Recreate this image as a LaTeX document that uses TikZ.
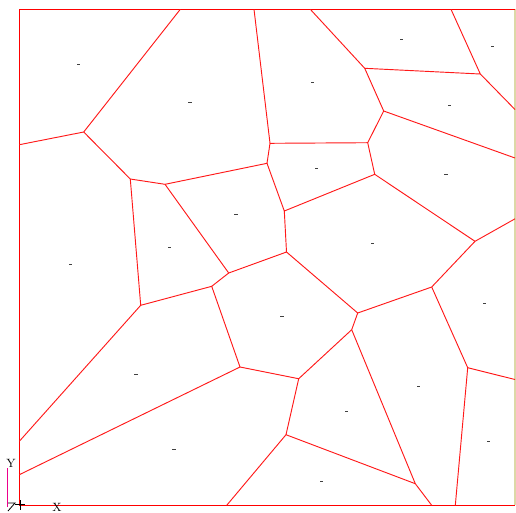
\documentclass[tikz,border=0pt]{standalone}
\begin{document}
\begin{tikzpicture}[x=0.75pt,y=-0.75pt,
  edge/.style={draw=red!90!white,line width=0.7pt},
  framelinestyle/.style={draw=red,line width=0.8pt},
  site/.style={fill=black!75,inner sep=0pt,minimum width=2.6pt,minimum height=0.7pt,draw=none},
  axlabel/.style={font=\fontsize{9}{9}\selectfont,inner sep=0pt,text=black}]
\useasboundingbox (0,0) rectangle (516,512);
% Voronoi vertices
\coordinate (A) at (83.7,132);
\coordinate (B) at (130.3,179);
\coordinate (C) at (165,184.3);
\coordinate (D) at (270,143.3);
\coordinate (E) at (267,163.3);
\coordinate (F) at (367.7,142.7);
\coordinate (G) at (383.7,111);
\coordinate (H) at (364.7,68.3);
\coordinate (I) at (480.3,74);
\coordinate (J) at (374.7,174.3);
\coordinate (K) at (284.3,211);
\coordinate (L) at (286.5,252);
\coordinate (M) at (475,241.3);
\coordinate (N) at (140.7,305.3);
\coordinate (O) at (211.7,286.3);
\coordinate (P) at (228.7,273);
\coordinate (Q) at (240,367);
\coordinate (S) at (357.7,313);
\coordinate (T) at (351.7,329.7);
\coordinate (U) at (431.7,287);
\coordinate (V) at (467.7,367.7);
\coordinate (W) at (298.7,378.7);
\coordinate (X) at (415.3,483.7);
\coordinate (Yv) at (286,434.7);
% boundary points
\coordinate (tA) at (180.3,9.3);
\coordinate (lA) at (19.3,144.7);
\coordinate (tD) at (254,9.3);
\coordinate (tH) at (310.3,9.3);
\coordinate (tI) at (451,9.3);
\coordinate (rI) at (515,109.5);
\coordinate (rG) at (515,158);
\coordinate (rM) at (515,218.8);
\coordinate (rV) at (515,379.5);
\coordinate (bV) at (455.3,505.3);
\coordinate (bX) at (431.7,505.3);
\coordinate (bY) at (226.7,505.3);
\coordinate (lN) at (19.3,441.3);
\coordinate (lQ) at (19.3,474.7);
% frame
\coordinate (fTL) at (19.3,9.3);
\coordinate (fTR) at (515,9.3);
\coordinate (fBL) at (19.3,505.3);
\coordinate (fBR) at (515,505.3);
\draw[draw=yellow!60!black!40,line width=0.8pt] (fTR) -- (fBR);
\draw[framelinestyle] (fTR) -- (fTL) -- (fBL) -- (fBR);
% edges
\draw[edge] (tA) -- (A) -- (lA);
\draw[edge] (A) -- (B) -- (C) -- (E) -- (D) -- (tD);
\draw[edge] (D) -- (F) -- (G) -- (H) -- (tH);
\draw[edge] (H) -- (I) -- (tI);
\draw[edge] (I) -- (rI);
\draw[edge] (G) -- (rG);
\draw[edge] (F) -- (J) -- (K) -- (E);
\draw[edge] (K) -- (L) -- (P) -- (C);
\draw[edge] (J) -- (M) -- (rM);
\draw[edge] (M) -- (U) -- (S) -- (L);
\draw[edge] (U) -- (V) -- (rV);
\draw[edge] (V) -- (bV);
\draw[edge] (S) -- (T) -- (W) -- (Q) -- (O) -- (P);
\draw[edge] (O) -- (N) -- (B);
\draw[edge] (N) -- (lN);
\draw[edge] (Q) -- (lQ);
\draw[edge] (T) -- (X) -- (bX);
\draw[edge] (W) -- (Yv) -- (X);
\draw[edge] (Yv) -- (bY);
% sites
\node[site] (s1) at (78.3,64) {};
\node[site] (s2) at (190,102) {};
\node[site] (s3) at (312.7,82) {};
\node[site] (s4) at (401.7,39.3) {};
\node[site] (s5) at (492.3,46) {};
\node[site] (s6) at (449.3,105) {};
\node[site] (s7) at (316.7,168.3) {};
\node[site] (s8) at (446,174.3) {};
\node[site] (s9) at (236,214.3) {};
\node[site] (s10) at (169.3,247.7) {};
\node[site] (s11) at (70.3,264.7) {};
\node[site] (s12) at (372.7,243.3) {};
\node[site] (s13) at (484.3,303.3) {};
\node[site] (s14) at (282,316) {};
\node[site] (s15) at (136,374) {};
\node[site] (s16) at (418.3,386.7) {};
\node[site] (s17) at (346.7,411.7) {};
\node[site] (s18) at (174,449.3) {};
\node[site] (s19) at (488.3,441.3) {};
\node[site] (s20) at (321.7,481.3) {};
% axis indicator
\coordinate (ay1) at (7,468);
\coordinate (ay2) at (7,507);
\draw[magenta,line width=0.7pt] (ay1) -- (ay2);
\coordinate (tr1) at (8,503);
\coordinate (tr2) at (15,503);
\coordinate (tr3) at (8,511);
\draw[black,line width=0.6pt] (tr1) -- (tr2) -- (tr3);
\coordinate (c1) at (20,500);
\coordinate (c2) at (20,510);
\coordinate (c3) at (15,504.5);
\coordinate (c4) at (25,504.5);
\draw[black,line width=0.6pt] (c1) -- (c2) (c3) -- (c4);
\node[axlabel] (ylab) at (11,463) {Y};
\node[axlabel] (xlab) at (57,507) {X};
\end{tikzpicture}
\end{document}
